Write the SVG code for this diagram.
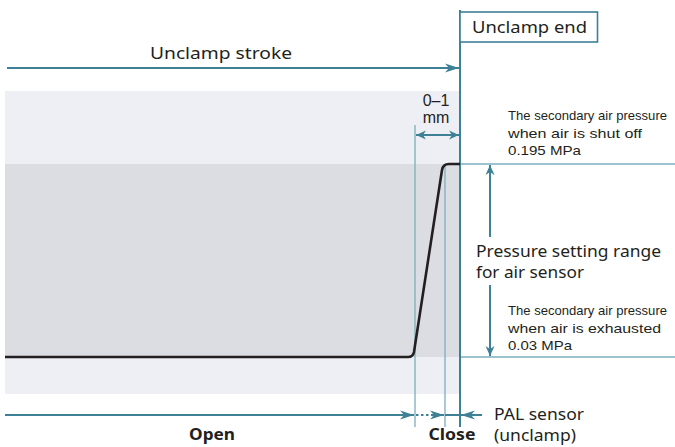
<svg xmlns="http://www.w3.org/2000/svg" width="675" height="447" viewBox="0 0 675 447">
<style>
text{font-family:"Noto Sans","Liberation Sans",sans-serif;fill:#231f20}
.lbl{font-size:16.5px}
.gap{font-family:"Liberation Sans","Noto Sans",sans-serif;font-size:16px}
.sm{font-family:"Liberation Sans","Noto Sans",sans-serif;font-size:13.5px}
.b{font-weight:bold}
.teal{stroke:#3e8196;stroke-width:2;fill:none}
.thin{stroke:#7aaebf;stroke-width:1.3;fill:none}
</style>
<defs>
<marker id="ah" viewBox="0 0 10 10" refX="10" refY="5" markerWidth="10" markerHeight="10" markerUnits="userSpaceOnUse" orient="auto-start-reverse">
<path d="M0,0.5 L10,5 L0,9.5 L3,5 Z" fill="#3e8196"/>
</marker>
<marker id="ahb" viewBox="0 0 14 10" refX="14" refY="5" markerWidth="14" markerHeight="10" markerUnits="userSpaceOnUse" orient="auto-start-reverse">
<path d="M0,0.5 L14,5 L0,9.5 L4,5 Z" fill="#3e8196"/>
</marker>
</defs>
<g id="bands">
<rect x="5" y="91" width="455" height="303" fill="#eeeff4"/>
<rect x="5" y="164" width="455" height="193" fill="#dcdde2"/>
</g>
<g id="connectors">
<line class="thin" x1="415" y1="125" x2="415" y2="427"/>
<line class="thin" x1="445" y1="164" x2="445" y2="427"/>
<line class="thin" x1="460" y1="164" x2="675" y2="164"/>
<line class="thin" x1="460" y1="357" x2="675" y2="357"/>
<line class="teal" x1="460" y1="10" x2="460" y2="427"/>
<line class="teal" x1="7" y1="68" x2="459" y2="68" marker-end="url(#ahb)"/>
<line class="teal" x1="416" y1="135" x2="459" y2="135" marker-start="url(#ah)" marker-end="url(#ah)"/>
<line class="teal" x1="490" y1="165" x2="490" y2="237" marker-start="url(#ah)"/>
<line class="teal" x1="490" y1="285" x2="490" y2="356" marker-end="url(#ah)"/>
<line class="teal" x1="5" y1="415" x2="414" y2="415" marker-end="url(#ahb)"/>
<line class="teal" x1="416" y1="415" x2="432" y2="415" stroke-dasharray="2.5 2.5"/>
<line class="teal" x1="432" y1="415" x2="444" y2="415" marker-end="url(#ahb)"/>
<line class="teal" x1="445" y1="415" x2="460" y2="415"/>
<line class="teal" x1="482" y1="415" x2="461" y2="415" marker-end="url(#ahb)"/>
</g>
<g id="curve">
<path d="M5,357 L408,357 Q413,357 414,352 L442,170 Q443,164 449,164 L460,164" fill="none" stroke="#231f20" stroke-width="2.6"/>
</g>
<g id="unclamp-end">
<rect x="460" y="12" width="137.5" height="30" fill="#fff" stroke="#3e8196" stroke-width="1.6"/>
<text class="lbl" x="472" y="33" textLength="115" lengthAdjust="spacingAndGlyphs">Unclamp end</text>
</g>
<g id="stroke-label">
<text class="lbl" x="221" y="59" text-anchor="middle" textLength="142" lengthAdjust="spacingAndGlyphs">Unclamp stroke</text>
</g>
<g id="gap-label">
<text class="gap" x="436" y="106" text-anchor="middle">0–1</text>
<text class="gap" x="436" y="123" text-anchor="middle">mm</text>
</g>
<g id="shutoff-label">
<text class="sm" x="508" y="120" textLength="159" lengthAdjust="spacingAndGlyphs">The secondary air pressure</text>
<text class="sm" x="508" y="138" textLength="134" lengthAdjust="spacingAndGlyphs">when air is shut off</text>
<text class="sm" x="508" y="155" textLength="73" lengthAdjust="spacingAndGlyphs">0.195 MPa</text>
</g>
<g id="range-label">
<text class="lbl" x="476" y="257" textLength="185" lengthAdjust="spacingAndGlyphs">Pressure setting range</text>
<text class="lbl" x="476" y="278" textLength="108" lengthAdjust="spacingAndGlyphs">for air sensor</text>
</g>
<g id="exhaust-label">
<text class="sm" x="508" y="315" textLength="159" lengthAdjust="spacingAndGlyphs">The secondary air pressure</text>
<text class="sm" x="508" y="333" textLength="153" lengthAdjust="spacingAndGlyphs">when air is exhausted</text>
<text class="sm" x="508" y="350" textLength="64" lengthAdjust="spacingAndGlyphs">0.03 MPa</text>
</g>
<g id="bottom-labels">
<text class="lbl b" x="212" y="440" text-anchor="middle" textLength="46" lengthAdjust="spacingAndGlyphs">Open</text>
<text class="lbl b" x="452" y="440" text-anchor="middle" textLength="47" lengthAdjust="spacingAndGlyphs">Close</text>
<text class="lbl" x="494" y="420" textLength="90" lengthAdjust="spacingAndGlyphs">PAL sensor</text>
<text class="lbl" x="494" y="441" textLength="82" lengthAdjust="spacingAndGlyphs">(unclamp)</text>
</g>
</svg>
